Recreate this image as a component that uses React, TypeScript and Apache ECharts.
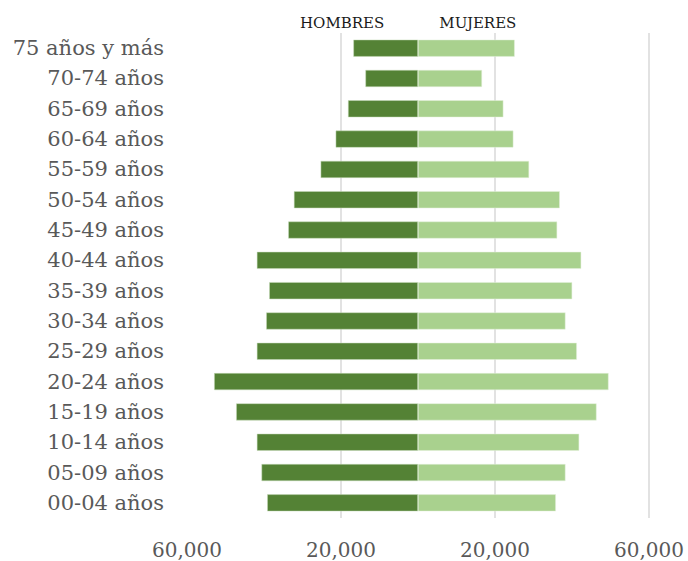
import React, { useEffect, useRef } from "react";
import * as echarts from "echarts";

const categories = [
  "00-04 años", "05-09 años", "10-14 años", "15-19 años", "20-24 años",
  "25-29 años", "30-34 años", "35-39 años", "40-44 años", "45-49 años",
  "50-54 años", "55-59 años", "60-64 años", "65-69 años", "70-74 años",
  "75 años y más",
];
const hombres = [
  39160, 40640, 41850, 47220, 52950, 41850, 39420, 38640, 41850, 33690,
  32220, 25280, 21380, 18170, 13650, 16780,
];
const mujeres = [
  35800, 38300, 41860, 46370, 49490, 41250, 38300, 40040, 42390, 36140,
  36820, 28850, 24770, 22170, 16620, 25110,
];
const seriesNames = ["HOMBRES", "MUJERES"];
const xMin = -60000;
const xMax = 60000;
const xInterval = 40000;

const FONT = "DejaVu Serif";

export default function App() {
  const ref = useRef<HTMLDivElement>(null);
  useEffect(() => {
    document.body.style.margin = "0";
    if (!ref.current) return;
    const chart = echarts.init(ref.current, null, { renderer: "svg" });
    chart.setOption({
      animation: false,
      backgroundColor: "#ffffff",
      textStyle: { fontFamily: FONT },
      legend: {
        data: seriesNames,
        icon: "none",
        itemWidth: 0,
        itemHeight: 0,
        itemGap: 50,
        left: 290,
        top: 10,
        selectedMode: false,
        textStyle: { fontFamily: FONT, fontSize: 15, color: "#1a1a1a" },
      },
      grid: { left: 187, right: 39, top: 33, bottom: 43, containLabel: false },
      xAxis: {
        type: "value",
        min: xMin,
        max: xMax,
        interval: xInterval,
        axisLine: { show: false },
        axisTick: { show: false },
        axisLabel: {
          fontFamily: FONT,
          fontSize: 20,
          color: "#595959",
          margin: 22,
          formatter: (v: number) => Math.abs(v).toLocaleString("en-US"),
        },
        splitLine: {
          show: true,
          showMinLine: false,
          lineStyle: { color: "#d9d9d9", width: 1.5 },
        },
      },
      yAxis: {
        type: "category",
        data: categories,
        axisLine: { show: false },
        axisTick: { show: false },
        splitLine: { show: false },
        axisLabel: {
          fontFamily: FONT,
          fontSize: 21,
          color: "#595959",
          margin: 23,
        },
      },
      series: [
        {
          name: seriesNames[0],
          type: "bar",
          data: hombres.map((v) => -v),
          barWidth: 17,
          barGap: "-100%",
          itemStyle: { color: "#548235", borderColor: "#c9dcbc", borderWidth: 0.5 },
        },
        {
          name: seriesNames[1],
          type: "bar",
          data: mujeres,
          barWidth: 17,
          barGap: "-100%",
          itemStyle: { color: "#a9d18e", borderColor: "#e4f0dc", borderWidth: 0.5 },
        },
      ],
    });
    return () => chart.dispose();
  }, []);
  return <div ref={ref} style={{ width: 688, height: 561 }} />;
}
